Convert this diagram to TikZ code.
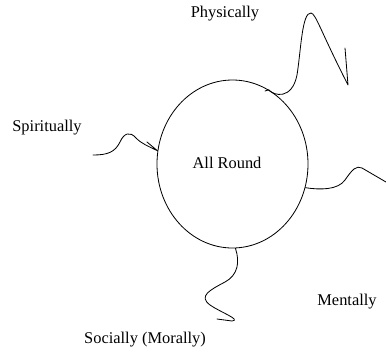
\documentclass[tikz,border=0pt]{standalone}
\usepackage{fontspec}
\setmainfont{Liberation Serif}
\usetikzlibrary{shapes.geometric}

\begin{document}
\begin{tikzpicture}[x=0.03cm, y=-0.03cm, font=\fontsize{14}{16}\selectfont,
        squiggle/.style={draw=black, line width=0.7pt, line cap=round, line join=round}]
        \useasboundingbox (0,0) rectangle (386,351);

        \node[shape=ellipse, draw=black, line width=0.7pt, minimum width=4.53cm, minimum height=5.04cm, inner sep=0pt] (core) at (232.5,164) {};
        \node (allround) at (227,163) {All Round};

        \node (phys) at (225,14) {Physically};
        \node (spir) at (47,128) {Spiritually};
        \node (ment) at (347,302) {Mentally};
        \node (soc) at (145,340) {Socially (Morally)};

        \coordinate (physend) at (345,48);
        \coordinate (spirstart) at (93,155);
        \coordinate (mentend) at (386,182);
        \coordinate (socend) at (217,319);

        % physically
        \draw[squiggle] (265,91) -- (core.64) .. controls (274,96) and (292,100) .. (297,75)
            .. controls (301,50) and (302,12) .. (311,13)
            .. controls (316,14) and (320,30) .. (348,85) -- (physend);
        % spiritually
        \draw[squiggle] (spirstart) .. controls (108,155) and (115,152) .. (120,142)
            .. controls (124,133) and (130,131) .. (136,138)
            .. controls (142,144) and (148,146) .. (core.170) -- (147,142);
        % mentally
        \draw[squiggle] (core.-18) .. controls (320,190) and (338,190) .. (345,180)
            .. controls (352,170) and (356,165) .. (362,168) -- (mentend);
        % socially
        \draw[squiggle] (core.-88) .. controls (240,262) and (238,275) .. (225,282)
            .. controls (210,290) and (198,296) .. (210,305)
            .. controls (220,312) and (242,320) .. (232,321) -- (socend);
\end{tikzpicture}
\end{document}
